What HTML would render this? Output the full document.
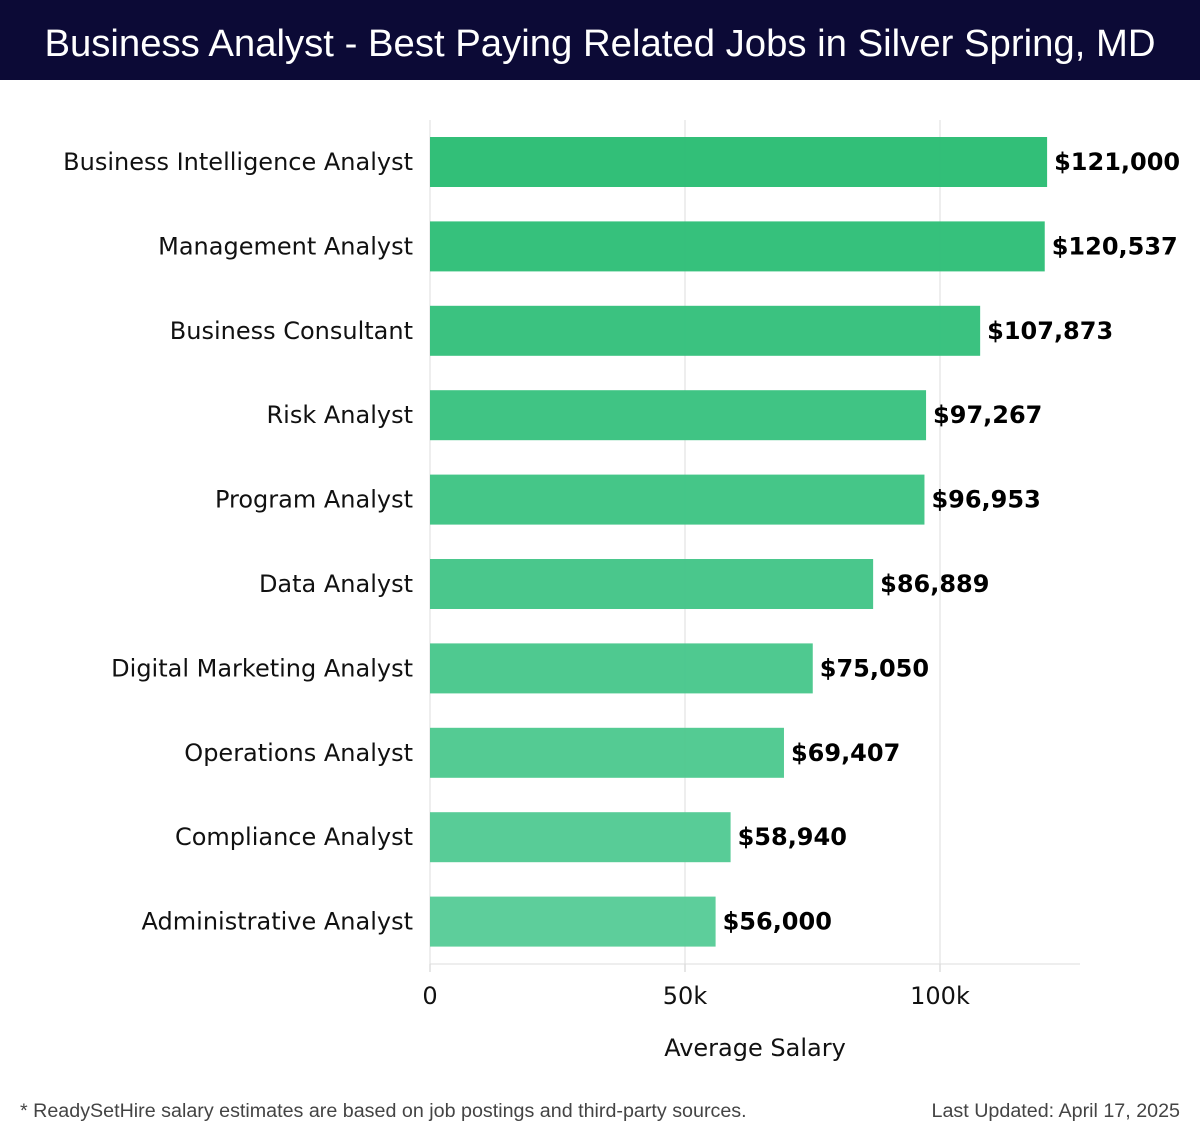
<!DOCTYPE html>
<html><head><meta charset="utf-8"><style>
body{margin:0;width:1200px;height:1140px;background:#fff;overflow:hidden;font-family:"DejaVu Sans","Liberation Sans",sans-serif}
#title{position:absolute;left:0;top:0;width:1200px;height:80px;background:#0c0a36;color:#fff;font-family:"Liberation Sans",sans-serif;font-size:38.3px;line-height:88px;text-align:center}
.foot{position:absolute;top:1100px;font-size:19.7px;color:#444;font-family:"Liberation Sans",sans-serif}
</style></head><body>
<div id="title">Business Analyst - Best Paying Related Jobs in Silver Spring, MD</div>
<svg id="chart" width="1200" height="1140" style="position:absolute;left:0;top:0"></svg>
<div class="foot" style="left:20px">* ReadySetHire salary estimates are based on job postings and third-party sources.</div>
<div class="foot" style="right:20px">Last Updated: April 17, 2025</div>
<script>
const categories=["Business Intelligence Analyst","Management Analyst","Business Consultant","Risk Analyst","Program Analyst","Data Analyst","Digital Marketing Analyst","Operations Analyst","Compliance Analyst","Administrative Analyst"];
const salaries=[121000,120537,107873,97267,96953,86889,75050,69407,58940,56000];
const valueLabels=["$121,000","$120,537","$107,873","$97,267","$96,953","$86,889","$75,050","$69,407","$58,940","$56,000"];
const tickValues=[0,50000,100000];
const tickLabels=["0","50k","100k"];
const NS="http://www.w3.org/2000/svg";
const svg=document.getElementById('chart');
const x0=430,pxPerUnit=255/50000,top0=120,step=84.4,barH=50,axisY=964;
const xs=v=>x0+v*pxPerUnit;
const yc=i=>top0+42+i*step;
function mk(t,a){const e=document.createElementNS(NS,t);for(const k in a)e.setAttribute(k,a[k]);svg.appendChild(e);return e;}
tickValues.forEach((v,i)=>{
 const g=mk('line',{x1:xs(v),x2:xs(v),y1:top0,y2:axisY,stroke:'#ddd','stroke-width':1});
 
 
 const tk=mk('line',{x1:xs(v),x2:xs(v),y1:axisY,y2:axisY+8,stroke:'#ccc','stroke-width':1});
 
 
 const t=mk('text',{x:xs(v),y:1004,'text-anchor':'middle','font-size':24,fill:'#111'});
 t.textContent=tickLabels[i];
 
 
});
const ax=mk('line',{x1:x0,x2:1080,y1:axisY,y2:axisY,stroke:'#ddd','stroke-width':1});


const at=mk('text',{x:755,y:1056,'text-anchor':'middle','font-size':24,fill:'#111'});
at.textContent='Average Salary';


const n=categories.length;
categories.forEach((c,i)=>{
 const f=i/(n-1);
 const col=`rgb(${Math.round(43+f*45)},${Math.round(189+f*15)},${Math.round(116+f*36)})`;
 const r=mk('rect',{x:x0,y:yc(i)-barH/2,width:xs(salaries[i])-x0,height:barH,fill:col,'fill-opacity':0.97});
 
 
 const l=mk('text',{x:413,y:yc(i)+8,'text-anchor':'end','font-size':24,fill:'#111'});
 l.textContent=c;
 
 
 const v=mk('text',{x:xs(salaries[i])+7,y:yc(i)+8,'font-size':24,'font-weight':'bold',fill:'#000'});
 v.textContent=valueLabels[i];
 
 
});
</script>
</body></html>
